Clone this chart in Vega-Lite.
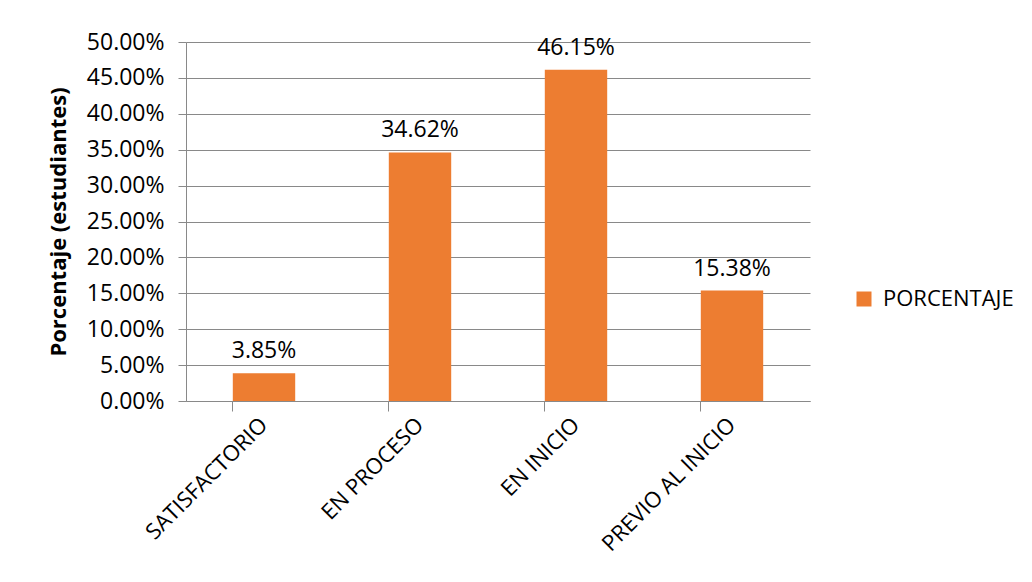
{
  "$schema": "https://vega.github.io/schema/vega-lite/v6.json",
  "width": 624,
  "height": 359,
  "autosize": {"type": "none"},
  "padding": {"left": 186, "top": 42, "right": 222, "bottom": 181},
  "background": "white",
  "config": {
    "view": {"stroke": null},
    "font": "Open Sans",
    "axis": {"labelFont": "Open Sans", "titleFont": "Open Sans"}
  },
  "data": {
    "values": [
      {"nivel": "SATISFACTORIO", "porcentaje": 0.0385, "serie": "PORCENTAJE"},
      {"nivel": "EN PROCESO", "porcentaje": 0.3462, "serie": "PORCENTAJE"},
      {"nivel": "EN INICIO", "porcentaje": 0.4615, "serie": "PORCENTAJE"},
      {"nivel": "PREVIO AL INICIO", "porcentaje": 0.1538, "serie": "PORCENTAJE"}
    ]
  },
  "encoding": {
    "x": {
      "field": "nivel",
      "type": "nominal",
      "sort": null,
      "scale": {"paddingInner": 0.6, "paddingOuter": 0.3},
      "axis": {
        "title": null,
        "labelAngle": -45,
        "labelAlign": "right",
        "labelBaseline": "middle",
        "labelFontSize": 22,
        "labelColor": "#000000",
        "labelPadding": 10,
        "bandPosition": 0,
        "ticks": true,
        "tickSize": 10,
        "tickColor": "#898989",
        "domainColor": "#898989",
        "domainWidth": 1,
        "grid": false
      }
    },
    "y": {
      "field": "porcentaje",
      "type": "quantitative",
      "scale": {"domain": [0, 0.5], "nice": false},
      "axis": {
        "title": "Porcentaje (estudiantes)",
        "titleFontSize": 22,
        "titleFontWeight": "bold",
        "titleColor": "#000000",
        "titlePadding": 16,
        "format": ".2%",
        "values": [0, 0.05, 0.1, 0.15, 0.2, 0.25, 0.3, 0.35, 0.4, 0.45, 0.5],
        "labelFontSize": 23,
        "labelColor": "#000000",
        "labelPadding": 14,
        "tickSize": 8,
        "tickColor": "#898989",
        "domainColor": "#898989",
        "grid": true,
        "gridColor": "#898989",
        "gridWidth": 1
      }
    }
  },
  "layer": [
    {
      "mark": {"type": "bar"},
      "encoding": {
        "color": {
          "field": "serie",
          "type": "nominal",
          "scale": {"range": ["#ED7D31"]},
          "legend": {
            "title": null,
            "orient": "none",
            "legendX": 667,
            "legendY": 246,
            "symbolType": "square",
            "symbolSize": 225,
            "symbolStrokeWidth": 0,
            "labelFontSize": 22,
            "labelColor": "#000000",
            "labelOffset": 8
          }
        }
      }
    },
    {
      "mark": {"type": "text", "baseline": "bottom", "dy": -10, "fontSize": 23, "color": "#000000"},
      "encoding": {
        "text": {"field": "porcentaje", "type": "quantitative", "format": ".2%"}
      }
    }
  ]
}
